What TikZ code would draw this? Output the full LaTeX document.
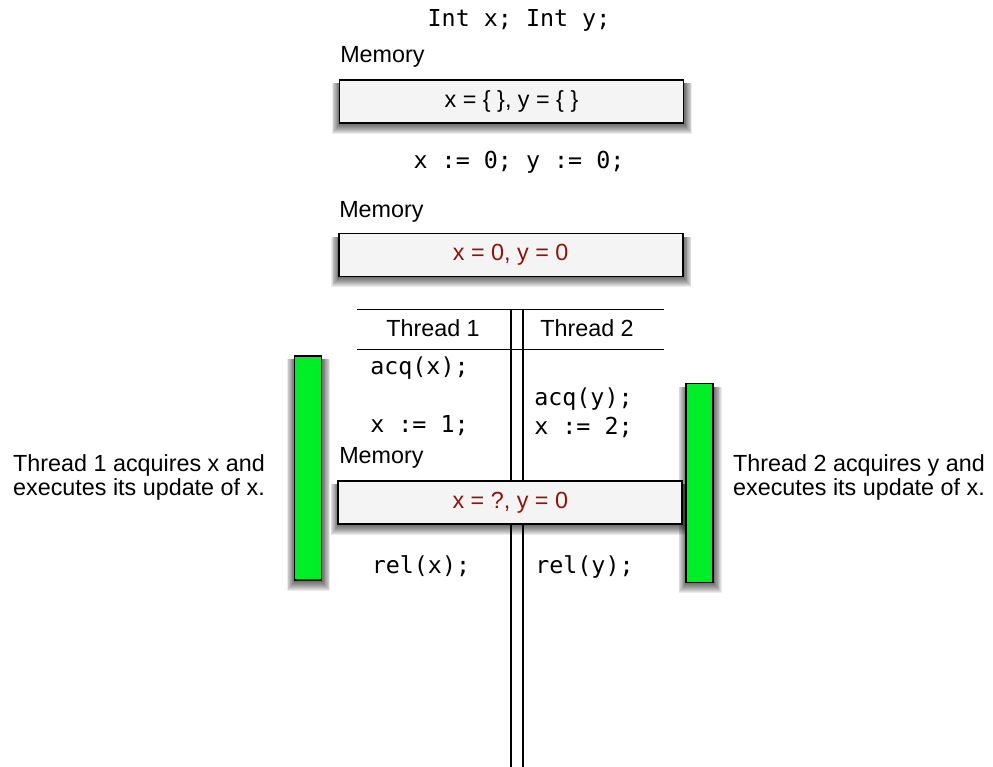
\documentclass[tikz,border=0pt]{standalone}
\usepackage{fontspec}
\setmainfont{Liberation Sans}
\setmonofont{DejaVu Sans Mono}
\usetikzlibrary{calc}
\pgfdeclarelayer{bottom}
\pgfdeclarelayer{background}
\pgfsetlayers{bottom,background,main}
\definecolor{memfill}{RGB}{244,244,244}
\definecolor{valred}{RGB}{140,20,10}
\definecolor{bargreen}{RGB}{0,238,40}
\tikzset{
  px/.style={x=0.75pt,y=-0.75pt},
  txt/.style={font=\fontsize{17.5}{18}\selectfont, inner sep=0pt},
  code/.style={font=\ttfamily\fontsize{17.5}{18}\selectfont, inner sep=0pt},
  membox/.style={draw=black, line width=1.4pt, fill=memfill, minimum width=344*0.75pt, minimum height=43*0.75pt,
    inner sep=0pt, font=\fontsize{17.5}{18}\selectfont},
  bar/.style={draw=black, line width=1.4pt, fill=bargreen, minimum width=27*0.75pt, inner sep=0pt},
  rule/.style={line width=1.2pt, black},
  shadowlayer/.style={fill=black, opacity=0.075},
}
\newcommand{\dropshadow}[1]{%
  \foreach \s in {0,1,...,9}{%
    \fill[shadowlayer] ($(#1.south west)+(-\s*0.8+0.5,\s+1)$) rectangle ($(#1.north east)+(\s*0.8+0.5,4)$);
  }%
}
\begin{document}
\begin{tikzpicture}[px]
\begin{pgfonlayer}{bottom}
\fill[white] (0,0) rectangle (993,767);
\end{pgfonlayer}
\useasboundingbox (0,0) rectangle (993,767);

% declarations
\node[code] (decl) at (519,20) {Int x; Int y;};
\node[txt, anchor=west] (mem1) at (340,57) {Memory};
\node[membox] (box1) at (511.5,101.5) {x = \{ \}, y = \{ \}};
\node[code] (init) at (519,162) {x := 0; y := 0;};
\node[txt, anchor=west] (mem2) at (339,212) {Memory};
\node[membox] (box2) at (510.7,255) {\textcolor{valred}{x = 0, y = 0}};

% thread table
\coordinate (tl) at (357,309.3);
\coordinate (tr) at (664,309.3);
\coordinate (ml) at (357,349.3);
\coordinate (mr) at (664,349.3);
\coordinate (v1t) at (511,309.3);
\coordinate (v1b) at (511,767);
\coordinate (v2t) at (522.7,309.3);
\coordinate (v2b) at (522.7,767);
\begin{pgfonlayer}{background}
\draw[rule] (tl) -- (tr);
\draw[rule] (ml) -- (mr);
\draw[rule] (v1t) -- (v1b);
\draw[rule] (v2t) -- (v2b);
\end{pgfonlayer}

\node[txt] (th1) at (433,328.5) {Thread 1};
\node[txt] (th2) at (587,328.5) {Thread 2};

\node[code, anchor=west] (acqx) at (370,368) {acq(x);};
\node[code, anchor=west] (x1) at (370,426) {x := 1;};
\node[code, anchor=west] (acqy) at (534,399) {acq(y);};
\node[code, anchor=west] (x2) at (534,427) {x := 2;};
\node[txt, anchor=west] (mem3) at (339,458) {Memory};
\node[membox] (box3) at (510.3,502.5) {\textcolor{valred}{x = ?, y = 0}};
\node[code, anchor=west] (relx) at (371.5,566) {rel(x);};
\node[code, anchor=west] (rely) at (535,567) {rel(y);};

% green bars
\node[bar, minimum height=224*0.75pt] (bar1) at (308,468) {};
\node[bar, minimum height=199*0.75pt] (bar2) at (699.7,483) {};

% shadows
\begin{pgfonlayer}{background}
\dropshadow{box1}
\dropshadow{box2}
\dropshadow{box3}
\dropshadow{bar1}
\dropshadow{bar2}
\end{pgfonlayer}

% side notes
\node[txt, align=left] (note1) at (139,477.5) {Thread 1 acquires x and\\executes its update of x.};
\node[txt, align=left] (note2) at (859,477) {Thread 2 acquires y and\\executes its update of x.};
\end{tikzpicture}
\end{document}
